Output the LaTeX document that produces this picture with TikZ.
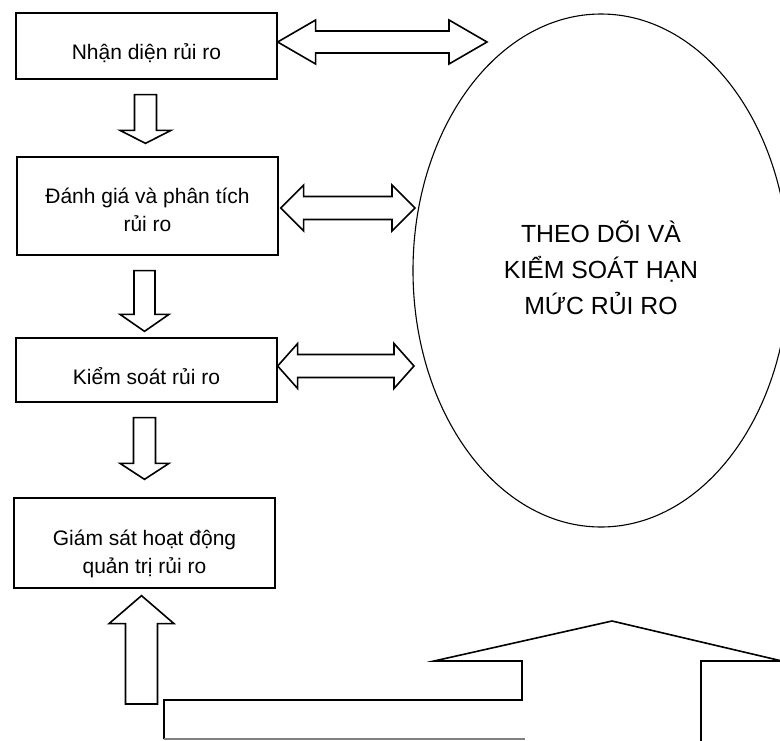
\documentclass[tikz,border=0pt]{standalone}
\usepackage{fontspec}
\setmainfont{Liberation Sans}
\usetikzlibrary{shapes.geometric,calc}

\tikzset{
	riskbox/.style={draw, line width=1.3pt, minimum width=261pt, inner sep=0pt,
		align=center, font=\fontsize{21}{28.5}\selectfont},
	limitell/.style={draw, ellipse, line width=1.1pt, minimum width=376pt,
		minimum height=513pt, inner sep=0pt, align=center, text depth=6pt,
		font=\fontsize{24.8}{36}\selectfont},
	blk/.style={draw, line width=1.6pt, line join=miter, fill=white},
}

% double block arrow: left tip, right tip, head length, half head, half shaft
\newcommand{\dblarrow}[5]{%
	\draw[blk] let \p1=(#1), \p2=(#2) in
		(\p1) -- (\x1+#3,\y1+#4) -- (\x1+#3,\y1+#5) -- (\x2-#3,\y1+#5)
		-- (\x2-#3,\y1+#4) -- (\x2,\y1) -- (\x2-#3,\y1-#4) -- (\x2-#3,\y1-#5)
		-- (\x1+#3,\y1-#5) -- (\x1+#3,\y1-#4) -- cycle;}
% vertical block arrow: tail, tip, head length (signed), half head, half shaft
\newcommand{\vblock}[5]{%
	\draw[blk] let \p1=(#1), \p2=(#2) in
		(\x2-#5,\y1) -- (\x2-#5,\y2+#3) -- (\x2-#4,\y2+#3) -- (\p2)
		-- (\x2+#4,\y2+#3) -- (\x2+#5,\y2+#3) -- (\x2+#5,\y1) -- cycle;}

\begin{document}
\begin{tikzpicture}[x=1pt,y=-1pt]
	\useasboundingbox (0,0) rectangle (780,740);
	\clip (0,0) rectangle (780,740);

	\node[riskbox, minimum height=66pt, text height=30pt] (nhandien) at (146.5,46) {Nhận diện rủi ro};
	\node[riskbox, minimum height=98pt, text height=52pt] (danhgia) at (147.5,206) {Đánh giá và phân tích\\rủi ro};
	\node[riskbox, minimum height=64pt, text height=30pt] (kiemsoat) at (146.5,370) {Kiểm soát rủi ro};
	\node[riskbox, minimum height=90pt, text height=66pt] (giamsat) at (144.5,543) {Giám sát hoạt động\\quản trị rủi ro};
	\node[limitell] (theodoi) at (601,270.5) {THEO DÕI VÀ\\KIỂM SOÁT HẠN\\MỨC RỦI RO};

	% ends of the arrows
	\coordinate (h1a) at ([yshift=4pt]nhandien.east);
	\coordinate (h1b) at (487,42);
	\coordinate (h2a) at ([xshift=2pt,yshift=-2pt]danhgia.east);
	\coordinate (h2b) at (415,208);
	\coordinate (h3a) at ([yshift=4pt]kiemsoat.east);
	\coordinate (h3b) at (414,366);
	\coordinate (v1a) at ([yshift=-15pt]nhandien.south);
	\coordinate (v1b) at ([xshift=-2pt,yshift=13pt]danhgia.north);
	\coordinate (v2a) at ([yshift=-15pt]danhgia.south);
	\coordinate (v2b) at ([xshift=-2pt,yshift=6pt]kiemsoat.north);
	\coordinate (v3a) at ([yshift=-15pt]kiemsoat.south);
	\coordinate (v3b) at ([yshift=18pt]giamsat.north);
	\coordinate (upfoot) at (141,704);
	\coordinate (uptip) at ([xshift=-3pt,yshift=-7pt]giamsat.south);

	\dblarrow{h1a}{h1b}{38pt}{22pt}{11pt}
	\dblarrow{h2a}{h2b}{23pt}{23pt}{11.5pt}
	\dblarrow{h3a}{h3b}{20pt}{22.5pt}{11.5pt}

	\vblock{v1a}{v1b}{13pt}{25.5pt}{11pt}
	\vblock{v2a}{v2b}{17pt}{24.5pt}{10.5pt}
	\vblock{v3a}{v3b}{16pt}{24.5pt}{11pt}
	\vblock{upfoot}{uptip}{-28pt}{32.5pt}{16pt}

	% bent arrow at the bottom
	\draw[line width=1.6pt, line join=miter] (164,739) -- (164,700) -- (522,700) -- (522,661)
		-- (434,661) -- (612,621) -- (782,661) -- (701,661) -- (701,741);
	\draw[line width=1.4pt, gray] (164,739) -- (525,739);
\end{tikzpicture}
\end{document}
